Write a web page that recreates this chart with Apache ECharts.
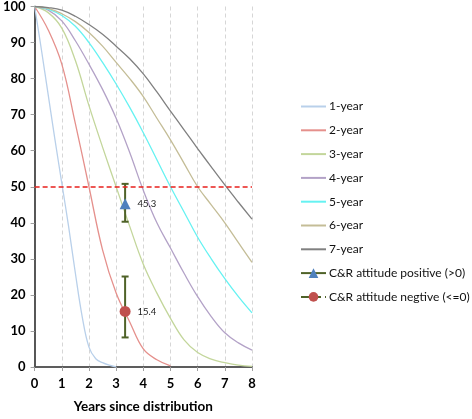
<!DOCTYPE html>
<html>
<head>
<meta charset="utf-8">
<script src="https://cdn.jsdelivr.net/npm/echarts@6/dist/echarts.min.js"></script>
<style>
html,body{margin:0;padding:0;background:#fff;}
#chart{width:472px;height:419px;}
</style>
</head>
<body>
<div id="chart"></div>
<script>
// ---- data ----
const t1 = [0,0.25,0.5,0.75,1,1.25,1.5,1.75,2,2.25,2.5,2.75,3];
const s1 = [100,88,75.5,63,51,39,26,14,5.5,2.3,1.2,0.5,0];
const t2 = [0,0.5,1,1.5,2,2.5,3,3.5,4,4.5,5];
const s2 = [100,93.5,84,67.5,50,32.5,20.5,12.5,5,2,0.3];
const tFull = [0,0.5,1,1.5,2,2.5,3,3.5,4,4.5,5,5.5,6,6.5,7,7.5,8];
const s3 = [100,98.3,94,85,72.5,61,50,39,28.5,20.5,13.5,7.5,4,2.2,1.2,0.5,0.2];
const s4 = [100,99,96,90.5,84,77,69,59.5,49,40,33,26,19.5,14,9.5,6.7,4.7];
const s5 = [100,99.3,97.5,94.5,90,84.5,78.5,72,65,57.5,50,43,36,30,24.5,19.5,15];
const s6 = [100,99.5,98,95.8,92.8,89,84.5,80,75,69,63,56.5,50,45,40,34.5,29];
const s7 = [100,99.7,99,97.3,95,92.3,89,85.5,81.3,76.3,71,65.8,60.6,55.5,50.5,45.7,41];
const seriesNames = ['1-year','2-year','3-year','4-year','5-year','6-year','7-year'];
const seriesColors = ['#b9d0ea','#e5908c','#c3d69b','#b3a2c7','#66f2f2','#c4bd97','#808080'];

const crX = [3.33, 3.33];
const crVal = [45.3, 15.4];
const crLow = [40.3, 8.2];
const crHigh = [50.8, 25.1];
const crNames = ['C&R attitude positive (>0)','C&R attitude negtive (<=0)'];
const threshold = 50;

const xTicks = [0,1,2,3,4,5,6,7,8];
const yTicks = [0,10,20,30,40,50,60,70,80,90,100];

// ---- build ----
const zip = (xs, ys) => xs.map((x,i) => [x, ys[i]]);
const curves = [zip(t1,s1), zip(t2,s2), zip(tFull,s3), zip(tFull,s4), zip(tFull,s5), zip(tFull,s6), zip(tFull,s7)];

const series = curves.map((d,i) => ({
  name: seriesNames[i], type:'line', data:d, symbol:'none', smooth:0.4,
  lineStyle:{color:seriesColors[i], width:1.3}, itemStyle:{color:seriesColors[i]}, z:2
}));

series[0].markLine = {
  silent:true, symbol:['none','none'], label:{show:false},
  lineStyle:{color:'#e8201c', type:[5,3], width:1.6},
  data:[{yAxis: threshold}]
};

series.push({
  name:'errbars', type:'custom', z:3,
  data: crX.map((x,i)=>[x, crLow[i], crHigh[i]]),
  renderItem: function(params, api){
    const x = api.value(0);
    const lo = api.coord([x, api.value(1)]);
    const hi = api.coord([x, api.value(2)]);
    const st = {stroke:'#4f6228', lineWidth:2};
    return {type:'group', children:[
      {type:'line', shape:{x1:lo[0],y1:lo[1],x2:hi[0],y2:hi[1]}, style:st},
      {type:'line', shape:{x1:hi[0]-3.5,y1:hi[1],x2:hi[0]+3.5,y2:hi[1]}, style:st},
      {type:'line', shape:{x1:lo[0]-3.5,y1:lo[1],x2:lo[0]+3.5,y2:lo[1]}, style:st}
    ]};
  }
});

const crSymbols = ['triangle','circle'];
const crColors = ['#4f81bd','#c0504d'];
const crSizes = [11, 11];
const crLineTypes = ['solid','dashed'];
crNames.forEach((n,i)=>{
  series.push({
    name:n, type:'line', z:5, data:[[crX[i], crVal[i]]],
    symbol:crSymbols[i], symbolSize:crSizes[i], showSymbol:true,
    itemStyle:{color:crColors[i]},
    lineStyle:{color:'#4f6228', width:2, type:crLineTypes[i]},
    label:{show:true, position:'right', distance:7, fontFamily:'Lato', fontSize:9.5, color:'#222',
      formatter:(p)=>p.value[1].toFixed(1)}
  });
});

const legendData = seriesNames.map(n => ({name:n, itemStyle:{opacity:0}}))
  .concat(crNames.map(n => ({name:n})));

const chart = echarts.init(document.getElementById('chart'), null, {renderer:'canvas'});
chart.setOption({
  backgroundColor:'#ffffff',
  animation:false,
  grid:{left:32, top:5, width:220, height:371.5, containLabel:false},
  legend:{
    orient:'vertical', left:295, top:95.5, padding:5,
    itemWidth:25, itemHeight:12, itemGap:11.8,
    data: legendData,
    textStyle:{fontFamily:'Lato', fontSize:12, color:'#111', padding:[0,0,0,-2]},
    selectedMode:false
  },
  xAxis:[{
    type:'value', min:0, max:8, interval:1,
    axisLine:{show:true, lineStyle:{color:'#a0a0a0', width:1.6}},
    axisTick:{show:true, length:4, lineStyle:{color:'#a0a0a0'}},
    axisLabel:{fontFamily:'Lato', fontWeight:'bold', fontSize:13, color:'#000', margin:10,
      formatter:(v)=> xTicks.includes(v) ? String(v) : ''},
    splitLine:{show:true, lineStyle:{color:'#d6d6d6', type:[4,3], width:1}},
    name:'Years since distribution', nameLocation:'middle', nameGap:33,
    nameTextStyle:{fontFamily:'Lato', fontWeight:'bold', fontSize:13.5, color:'#000'}
  },{
    type:'value', min:0, max:8, position:'top',
    axisLine:{show:true, lineStyle:{color:'#404040', width:1.6}},
    axisTick:{show:false}, axisLabel:{show:false}, splitLine:{show:false}
  }],
  yAxis:[{
    type:'value', min:0, max:100, interval:10,
    axisLine:{show:true, lineStyle:{color:'#a0a0a0', width:1.6}},
    axisTick:{show:true, length:4, lineStyle:{color:'#a0a0a0'}},
    axisLabel:{fontFamily:'Lato', fontWeight:'bold', fontSize:13, color:'#000', margin:9,
      formatter:(v)=> yTicks.includes(v) ? String(v) : ''},
    splitLine:{show:false}
  },{
    type:'value', min:0, max:100, position:'right',
    axisLine:{show:true, lineStyle:{color:'#404040', width:1.6}},
    axisTick:{show:false}, axisLabel:{show:false}, splitLine:{show:false}
  }],
  series: series
});
</script>
</body>
</html>
